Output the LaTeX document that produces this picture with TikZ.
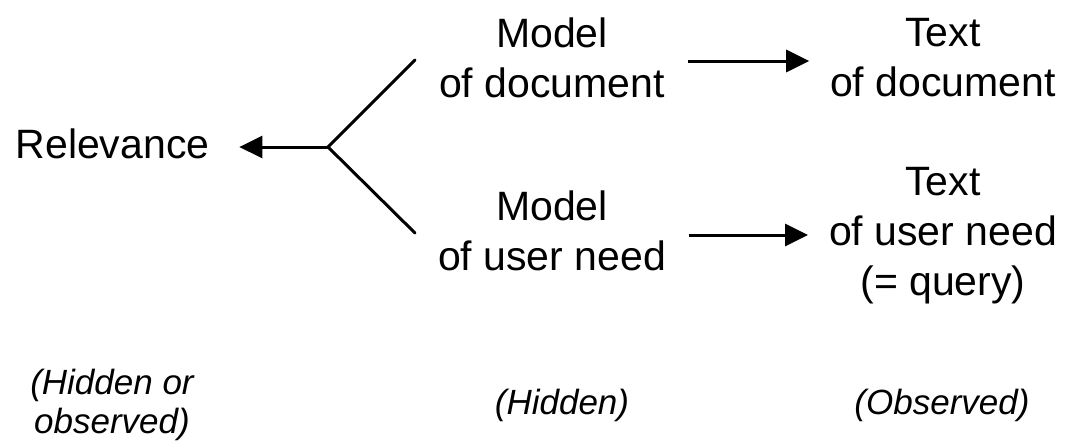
\documentclass[tikz,border=0pt]{standalone}
\usepackage{fontspec}
\setmainfont{Liberation Sans}
\usetikzlibrary{arrows.meta}
\tikzset{
  lbl/.style={inner sep=0pt, outer sep=0pt, align=center, font=\fontsize{41pt}{50pt}\selectfont},
  note/.style={inner sep=0pt, outer sep=0pt, align=center, font=\fontsize{35pt}{39pt}\selectfont\itshape},
  arr/.style={line width=3pt, -{Triangle[length=23pt,width=22pt]}},
  fork/.style={line width=3pt, line cap=round},
}
\begin{document}
\begin{tikzpicture}[x=1pt,y=-1pt]
\useasboundingbox (0,0) rectangle (1067,445);
\node[lbl] (rel) at (112.5,144) {Relevance};
\node[lbl] (mdoc) at (552,57.5) {Model\\of document};
\node[lbl] (tdoc) at (943,57.8) {Text\\of document};
\node[lbl] (muser) at (552,231) {Model\\of user need};
\node[lbl] (tuser) at (943,235.6) {Text\\of user need\\(= query)};
\node[note] (hobs) at (112,404.5) {(Hidden or\\observed)};
\node[note, anchor=base] (hid) at (562,414) {(Hidden)};
\node[note, anchor=base] (obs) at (942,414) {(Observed)};
\coordinate (j) at (328,147);
\coordinate (f1) at (415,60);
\coordinate (f2) at (415,233);
\draw[fork] (f1) -- (j) -- (f2);
\draw[arr, shorten >=30pt] (j) -- (rel.east |- j);
\draw[arr, shorten <=23pt, shorten >=21pt] ([yshift=-3.5pt]mdoc.east) -- ([yshift=-3.5pt]mdoc.east -| tdoc.west);
\draw[arr, shorten <=23pt, shorten >=21pt] ([yshift=-4pt]muser.east) -- ([yshift=-4pt]muser.east -| tuser.west);
\end{tikzpicture}
\end{document}
